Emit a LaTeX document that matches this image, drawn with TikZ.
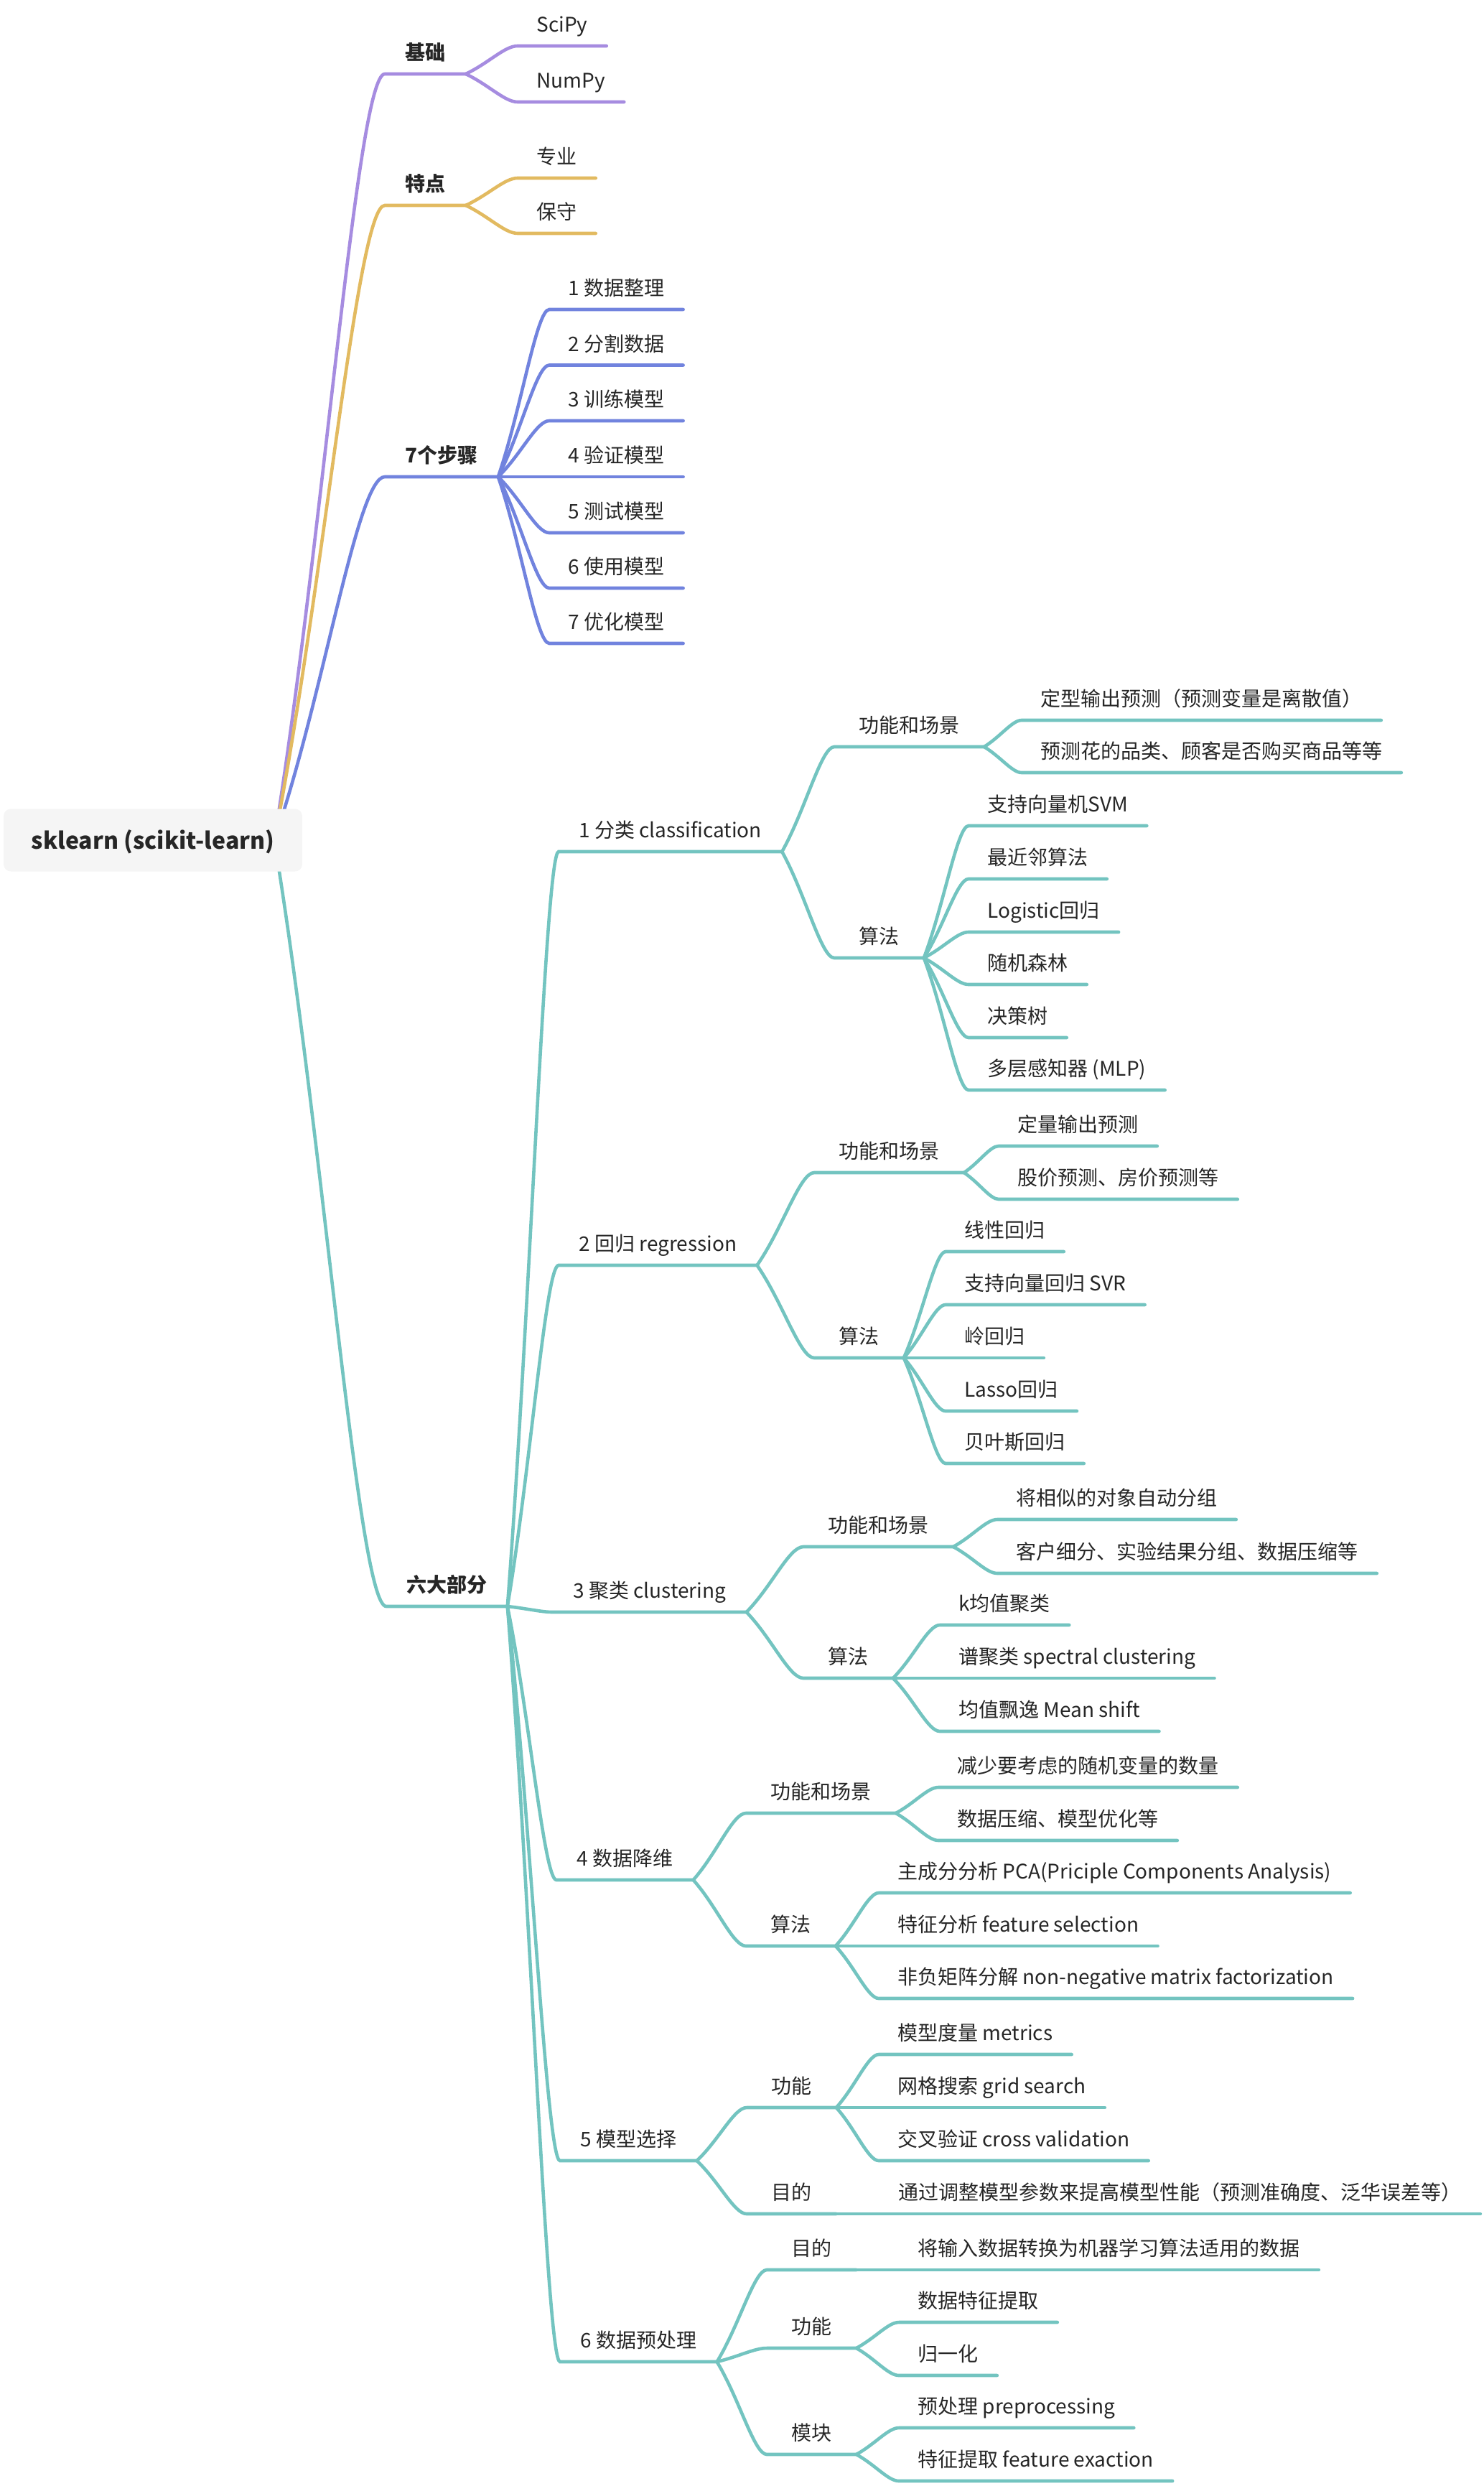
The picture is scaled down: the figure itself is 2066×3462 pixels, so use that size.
\documentclass[tikz,border=0pt]{standalone}
\usepackage{fontspec}
\setmainfont{Noto Sans CJK SC}
\usetikzlibrary{calc,backgrounds}
\definecolor{purp}{RGB}{166,140,224}
\definecolor{gold}{RGB}{226,186,96}
\definecolor{blu}{RGB}{113,131,222}
\definecolor{tealc}{RGB}{115,196,192}

\begin{document}
\begin{tikzpicture}[x=0.5pt,y=-0.5pt,
  every node/.style={anchor=south west,inner ysep=6.5pt,text height=11pt,text depth=3pt,text=black!85,font=\fontsize{14pt}{17pt}\selectfont},
  lvone/.style={inner xsep=14pt,font=\fontsize{14pt}{17pt}\selectfont\bfseries},
  lvtwo/.style={inner xsep=14pt},
  lvthree/.style={inner xsep=17pt},
  leaf/.style={inner xsep=13pt},
  rootbox/.style={anchor=center,fill=black!4,rounded corners=5pt,minimum width=208pt,minimum height=43.5pt,inner sep=0pt,text height=12pt,text depth=0pt,font=\fontsize{16pt}{19pt}\selectfont\bfseries},
  wire/.style={line width=2.3pt,line cap=round},
  branch/.style={to path={let \p1=(\tikztostart),\p2=(\tikztotarget) in
    .. controls ({\x1+0.45*(\x2-\x1)},{\y1+0.4*(\y2-\y1)}) and ({\x1+0.75*(\x2-\x1)},\y2) .. (\tikztotarget)}}]
\useasboundingbox (0,0) rectangle (2066,3462);
\node[rootbox] (root) at (213,1170) {sklearn (scikit-learn)};
\coordinate (hub) at (382,1170);
\node[lvone] (jichu) at (536,103) {基础};
\node[lvone] (tedian) at (536,286) {特点};
\node[lvone] (buzhou) at (536,664) {7个步骤};
\node[lvone] (liuda) at (538,2237) {六大部分};
\node[leaf] (scipy) at (721,64) {SciPy};
\node[leaf] (numpy) at (721,142) {NumPy};
\node[leaf] (zhuanye) at (721,248) {专业};
\node[leaf] (baoshou) at (721,325) {保守};
\node[leaf] (bz1) at (765,431) {1 数据整理};
\node[leaf] (bz2) at (765,508.5) {2 分割数据};
\node[leaf] (bz3) at (765,586) {3 训练模型};
\node[leaf] (bz4) at (765,664) {4 验证模型};
\node[leaf] (bz5) at (765,742) {5 测试模型};
\node[leaf] (bz6) at (765,819) {6 使用模型};
\node[leaf] (bz7) at (765,896) {7 优化模型};
\node[lvtwo] (c1) at (778,1186) {1 分类 classification};
\node[lvthree] (c1a) at (1162,1040) {功能和场景};
\node[lvthree] (c1b) at (1162,1334) {算法};
\node[leaf] (c1a1) at (1423,1003) {定型输出预测（预测变量是离散值）};
\node[leaf] (c1a2) at (1423,1076) {预测花的品类、顾客是否购买商品等等};
\node[leaf] (c1b1) at (1349,1150) {支持向量机SVM};
\node[leaf] (c1b2) at (1349,1224) {最近邻算法};
\node[leaf] (c1b3) at (1349,1298) {Logistic回归};
\node[leaf] (c1b4) at (1349,1371) {随机森林};
\node[leaf] (c1b5) at (1349,1445) {决策树};
\node[leaf] (c1b6) at (1349,1518) {多层感知器 (MLP)};
\node[lvtwo] (c2) at (778,1762) {2 回归 regression};
\node[lvthree] (c2a) at (1134,1633) {功能和场景};
\node[lvthree] (c2b) at (1134,1891) {算法};
\node[leaf] (c2a1) at (1391,1596) {定量输出预测};
\node[leaf] (c2a2) at (1391,1670) {股价预测、房价预测等};
\node[leaf] (c2b1) at (1317,1743) {线性回归};
\node[leaf] (c2b2) at (1317,1817) {支持向量回归 SVR};
\node[leaf] (c2b3) at (1317,1891) {岭回归};
\node[leaf] (c2b4) at (1317,1965) {Lasso回归};
\node[leaf] (c2b5) at (1317,2038) {贝叶斯回归};
\node[lvtwo] (c3) at (770,2245) {3 聚类 clustering};
\node[lvthree] (c3a) at (1119,2154) {功能和场景};
\node[lvthree] (c3b) at (1119,2337) {算法};
\node[leaf] (c3a1) at (1389,2116) {将相似的对象自动分组};
\node[leaf] (c3a2) at (1389,2191) {客户细分、实验结果分组、数据压缩等};
\node[leaf] (c3b1) at (1309,2263) {k均值聚类};
\node[leaf] (c3b2) at (1309,2337) {谱聚类 spectral clustering};
\node[leaf] (c3b3) at (1309,2411) {均值飘逸 Mean shift};
\node[lvtwo] (c4) at (775,2618) {4 数据降维};
\node[lvthree] (c4a) at (1039,2525) {功能和场景};
\node[lvthree] (c4b) at (1039,2710) {算法};
\node[leaf] (c4a1) at (1307,2489) {减少要考虑的随机变量的数量};
\node[leaf] (c4a2) at (1307,2563) {数据压缩、模型优化等};
\node[leaf] (c4b1) at (1224,2636) {主成分分析 PCA(Priciple Components Analysis)};
\node[leaf] (c4b2) at (1224,2710) {特征分析 feature selection};
\node[leaf] (c4b3) at (1224,2783) {非负矩阵分解 non-negative matrix factorization};
\node[lvtwo] (c5) at (780,3009) {5 模型选择};
\node[lvthree] (c5a) at (1040,2935) {功能};
\node[lvthree] (c5b) at (1040,3083) {目的};
\node[leaf] (c5a1) at (1224,2861) {模型度量 metrics};
\node[leaf] (c5a2) at (1224,2935) {网格搜索 grid search};
\node[leaf] (c5a3) at (1224,3009) {交叉验证 cross validation};
\node[leaf] (c5b1) at (1225,3083) {通过调整模型参数来提高模型性能（预测准确度、泛华误差等）};
\node[lvtwo] (c6) at (780,3289) {6 数据预处理};
\node[lvthree] (c6a) at (1068,3161) {目的};
\node[lvthree] (c6b) at (1068,3270) {功能};
\node[lvthree] (c6c) at (1068,3418) {模块};
\node[leaf] (c6a1) at (1252,3161) {将输入数据转换为机器学习算法适用的数据};
\node[leaf] (c6b1) at (1252,3234) {数据特征提取};
\node[leaf] (c6b2) at (1252,3308) {归一化};
\node[leaf] (c6c1) at (1252,3381) {预处理 preprocessing};
\node[leaf] (c6c2) at (1252,3455) {特征提取 feature exaction};
\begin{scope}[on background layer]
\begin{scope}[wire]
\draw[purp] (hub) to[branch] (jichu.south west) -- (jichu.south east);
\draw[purp] (jichu.south east) to[branch] (scipy.south west) -- (scipy.south east);
\draw[purp] (jichu.south east) to[branch] (numpy.south west) -- (numpy.south east);
\draw[gold] (hub) to[branch] (tedian.south west) -- (tedian.south east);
\draw[gold] (tedian.south east) to[branch] (zhuanye.south west) -- (zhuanye.south east);
\draw[gold] (tedian.south east) to[branch] (baoshou.south west) -- (baoshou.south east);
\draw[blu] (hub) to[branch] (buzhou.south west) -- (buzhou.south east);
\draw[blu] (buzhou.south east) to[branch] (bz1.south west) -- (bz1.south east);
\draw[blu] (buzhou.south east) to[branch] (bz2.south west) -- (bz2.south east);
\draw[blu] (buzhou.south east) to[branch] (bz3.south west) -- (bz3.south east);
\draw[blu] (buzhou.south east) to[branch] (bz4.south west) -- (bz4.south east);
\draw[blu] (buzhou.south east) to[branch] (bz5.south west) -- (bz5.south east);
\draw[blu] (buzhou.south east) to[branch] (bz6.south west) -- (bz6.south east);
\draw[blu] (buzhou.south east) to[branch] (bz7.south west) -- (bz7.south east);
\draw[tealc] (hub) to[branch] (liuda.south west) -- (liuda.south east);
\draw[tealc] (liuda.south east) to[branch] (c1.south west) -- (c1.south east);
\draw[tealc] (c1.south east) to[branch] (c1a.south west) -- (c1a.south east);
\draw[tealc] (c1a.south east) to[branch] (c1a1.south west) -- (c1a1.south east);
\draw[tealc] (c1a.south east) to[branch] (c1a2.south west) -- (c1a2.south east);
\draw[tealc] (c1.south east) to[branch] (c1b.south west) -- (c1b.south east);
\draw[tealc] (c1b.south east) to[branch] (c1b1.south west) -- (c1b1.south east);
\draw[tealc] (c1b.south east) to[branch] (c1b2.south west) -- (c1b2.south east);
\draw[tealc] (c1b.south east) to[branch] (c1b3.south west) -- (c1b3.south east);
\draw[tealc] (c1b.south east) to[branch] (c1b4.south west) -- (c1b4.south east);
\draw[tealc] (c1b.south east) to[branch] (c1b5.south west) -- (c1b5.south east);
\draw[tealc] (c1b.south east) to[branch] (c1b6.south west) -- (c1b6.south east);
\draw[tealc] (liuda.south east) to[branch] (c2.south west) -- (c2.south east);
\draw[tealc] (c2.south east) to[branch] (c2a.south west) -- (c2a.south east);
\draw[tealc] (c2a.south east) to[branch] (c2a1.south west) -- (c2a1.south east);
\draw[tealc] (c2a.south east) to[branch] (c2a2.south west) -- (c2a2.south east);
\draw[tealc] (c2.south east) to[branch] (c2b.south west) -- (c2b.south east);
\draw[tealc] (c2b.south east) to[branch] (c2b1.south west) -- (c2b1.south east);
\draw[tealc] (c2b.south east) to[branch] (c2b2.south west) -- (c2b2.south east);
\draw[tealc] (c2b.south east) to[branch] (c2b3.south west) -- (c2b3.south east);
\draw[tealc] (c2b.south east) to[branch] (c2b4.south west) -- (c2b4.south east);
\draw[tealc] (c2b.south east) to[branch] (c2b5.south west) -- (c2b5.south east);
\draw[tealc] (liuda.south east) to[branch] (c3.south west) -- (c3.south east);
\draw[tealc] (c3.south east) to[branch] (c3a.south west) -- (c3a.south east);
\draw[tealc] (c3a.south east) to[branch] (c3a1.south west) -- (c3a1.south east);
\draw[tealc] (c3a.south east) to[branch] (c3a2.south west) -- (c3a2.south east);
\draw[tealc] (c3.south east) to[branch] (c3b.south west) -- (c3b.south east);
\draw[tealc] (c3b.south east) to[branch] (c3b1.south west) -- (c3b1.south east);
\draw[tealc] (c3b.south east) to[branch] (c3b2.south west) -- (c3b2.south east);
\draw[tealc] (c3b.south east) to[branch] (c3b3.south west) -- (c3b3.south east);
\draw[tealc] (liuda.south east) to[branch] (c4.south west) -- (c4.south east);
\draw[tealc] (c4.south east) to[branch] (c4a.south west) -- (c4a.south east);
\draw[tealc] (c4a.south east) to[branch] (c4a1.south west) -- (c4a1.south east);
\draw[tealc] (c4a.south east) to[branch] (c4a2.south west) -- (c4a2.south east);
\draw[tealc] (c4.south east) to[branch] (c4b.south west) -- (c4b.south east);
\draw[tealc] (c4b.south east) to[branch] (c4b1.south west) -- (c4b1.south east);
\draw[tealc] (c4b.south east) to[branch] (c4b2.south west) -- (c4b2.south east);
\draw[tealc] (c4b.south east) to[branch] (c4b3.south west) -- (c4b3.south east);
\draw[tealc] (liuda.south east) to[branch] (c5.south west) -- (c5.south east);
\draw[tealc] (c5.south east) to[branch] (c5a.south west) -- (c5a.south east);
\draw[tealc] (c5a.south east) to[branch] (c5a1.south west) -- (c5a1.south east);
\draw[tealc] (c5a.south east) to[branch] (c5a2.south west) -- (c5a2.south east);
\draw[tealc] (c5a.south east) to[branch] (c5a3.south west) -- (c5a3.south east);
\draw[tealc] (c5.south east) to[branch] (c5b.south west) -- (c5b.south east);
\draw[tealc] (c5b.south east) to[branch] (c5b1.south west) -- (c5b1.south east);
\draw[tealc] (liuda.south east) to[branch] (c6.south west) -- (c6.south east);
\draw[tealc] (c6.south east) to[branch] (c6a.south west) -- (c6a.south east);
\draw[tealc] (c6a.south east) to[branch] (c6a1.south west) -- (c6a1.south east);
\draw[tealc] (c6.south east) to[branch] (c6b.south west) -- (c6b.south east);
\draw[tealc] (c6b.south east) to[branch] (c6b1.south west) -- (c6b1.south east);
\draw[tealc] (c6b.south east) to[branch] (c6b2.south west) -- (c6b2.south east);
\draw[tealc] (c6.south east) to[branch] (c6c.south west) -- (c6c.south east);
\draw[tealc] (c6c.south east) to[branch] (c6c1.south west) -- (c6c1.south east);
\draw[tealc] (c6c.south east) to[branch] (c6c2.south west) -- (c6c2.south east);
\end{scope}
\end{scope}
\end{tikzpicture}
\end{document}
